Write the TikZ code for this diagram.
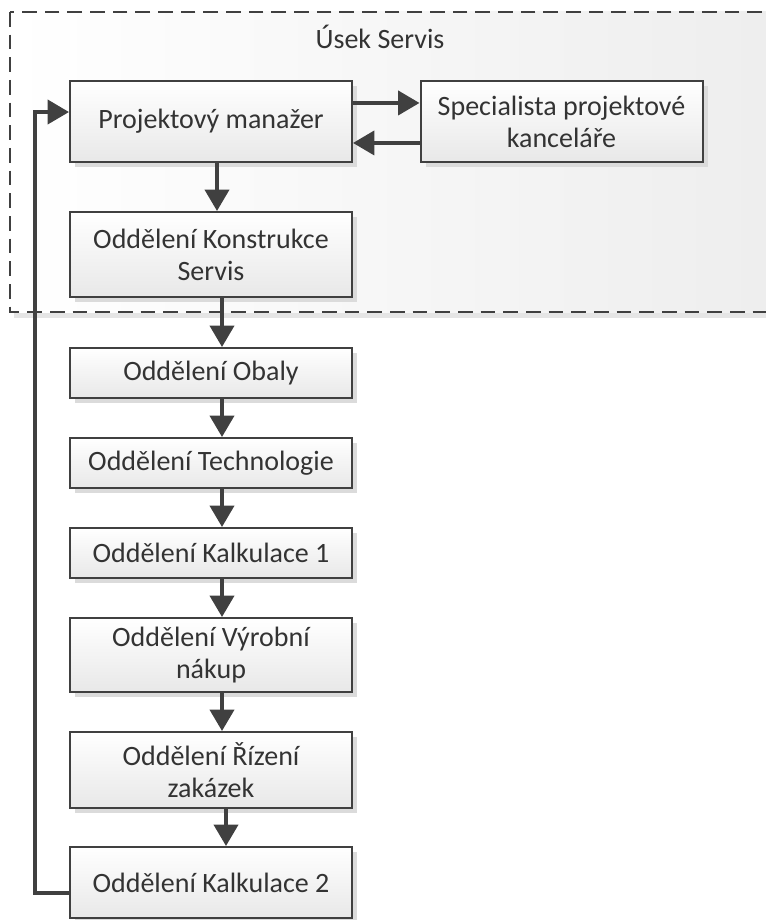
\documentclass[tikz,border=0pt]{standalone}
\usepackage{fontspec}
\setmainfont{Carlito}
\usetikzlibrary{arrows.meta,shadows}
\definecolor{edge}{HTML}{404040}
\definecolor{ink}{HTML}{333333}
\definecolor{boxbot}{HTML}{E8E8E8}
\begin{document}
\begin{tikzpicture}[x=0.75pt,y=-0.75pt,
  box/.style={draw=edge, line width=1.5pt, top color=white, bottom color=boxbot,
    minimum width=211.5pt, align=center, text=ink, inner sep=0pt,
    font=\fontsize{21}{24}\selectfont,
    drop shadow={shadow xshift=4pt, shadow yshift=-4pt, fill=black!14, opacity=1}},
  flow/.style={draw=edge, line width=2.8pt, -{Triangle[length=16pt,width=18pt]}},
  group/.style={draw=edge, line width=1.1pt, dash pattern=on 11pt off 6pt,
    left color=white, right color=black!7},
]
\useasboundingbox (0,0) rectangle (765,920);

% department group frame
\fill[black!10] (14,17) rectangle (810,318);
\path[group] (10,12) rectangle (800,312);
\node[text=ink, font=\fontsize{21}{24}\selectfont] (grp) at (380,37) {Úsek Servis};

% boxes
\node[box, minimum height=60.75pt] (pm)   at (211,121.5) {Projektový manažer};
\node[box, minimum height=60.75pt] (spec) at (561.5,121.5) {Specialista projektové\\kanceláře};
\node[box, minimum height=63.75pt] (kons) at (211,254.5) {Oddělení Konstrukce\\Servis};
\node[box, minimum height=37.5pt]  (obal) at (211,373) {Oddělení Obaly};
\node[box, minimum height=37.5pt]  (tech) at (211,463) {Oddělení Technologie};
\node[box, minimum height=37.5pt]  (kal1) at (211,553) {Oddělení Kalkulace 1};
\node[box, minimum height=55.5pt]  (vyr)  at (211,655) {Oddělení Výrobní\\nákup};
\node[box, minimum height=57pt]    (riz)  at (211,770) {Oddělení Řízení\\zakázek};
\node[box, minimum height=53.25pt] (kal2) at (211,882.5) {Oddělení Kalkulace 2};

% connectors
\draw[flow] ([yshift=13.9pt]pm.east) -- ([yshift=13.9pt]spec.west);
\draw[flow] ([yshift=-16.1pt]spec.west) -- ([yshift=-16.1pt]pm.east);
\draw[flow] ([xshift=4.5pt]pm.south) -- ([xshift=4.5pt]kons.north);
\draw[flow] ([xshift=8.25pt]kons.south) -- ([xshift=8.25pt]obal.north);
\draw[flow] ([xshift=8.25pt]obal.south) -- ([xshift=8.25pt]tech.north);
\draw[flow] ([xshift=8.25pt]tech.south) -- ([xshift=8.25pt]kal1.north);
\draw[flow] ([xshift=8.25pt]kal1.south) -- ([xshift=8.25pt]vyr.north);
\draw[flow] ([xshift=8.25pt]vyr.south) -- ([xshift=8.25pt]riz.north);
\draw[flow] ([xshift=11.25pt]riz.south) -- ([xshift=11.25pt]kal2.north);

% feedback loop back to the project manager
\coordinate (loop) at (35,112);
\draw[flow] ([yshift=-7.9pt]kal2.west) -| (loop) -- ([yshift=7.1pt]pm.west);
\end{tikzpicture}
\end{document}
